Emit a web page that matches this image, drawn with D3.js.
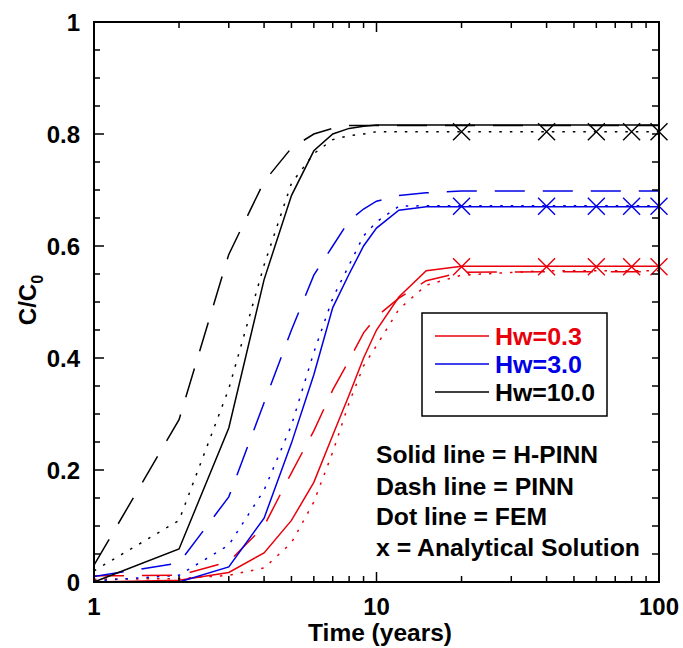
<!DOCTYPE html>
<html><head><meta charset="utf-8">
<script src="https://cdn.jsdelivr.net/npm/d3@7"></script>
<style>
body{margin:0;background:#fff;}
svg text{font-family:"Liberation Sans",Arial,Helvetica,sans-serif;font-weight:bold;}
</style></head>
<body>
<svg id="chart" width="683" height="648"></svg>
<script>
// ---------- data ----------
const times = [1,2,3,4,5,6,7,8,9,10,12,15,20,40,60,80,100];
// H-PINN (solid)
const hpinn_03 = [0,0.003,0.017,0.052,0.11,0.178,0.262,0.334,0.40,0.45,0.509,0.556,0.564,0.564,0.564,0.564,0.564];
const hpinn_30 = [0,0,0.027,0.114,0.248,0.37,0.49,0.55,0.60,0.632,0.664,0.67,0.67,0.67,0.67,0.67,0.67];
const hpinn_100 = [0,0.059,0.275,0.54,0.69,0.77,0.80,0.81,0.814,0.816,0.816,0.816,0.816,0.816,0.816,0.816,0.816];
// PINN (dash)
const pinn_03 = [0.011,0.012,0.036,0.10,0.195,0.27,0.343,0.396,0.445,0.474,0.507,0.538,0.553,0.554,0.554,0.554,0.554];
const pinn_30 = [0.01,0.034,0.152,0.32,0.45,0.548,0.60,0.645,0.666,0.68,0.69,0.695,0.698,0.698,0.698,0.698,0.698];
const pinn_100 = [0.03,0.29,0.585,0.715,0.775,0.80,0.81,0.815,0.815,0.815,0.815,0.815,0.815,0.815,0.815,0.815,0.815];
// FEM (dot)
const fem_03 = [0.005,0.006,0.012,0.025,0.07,0.143,0.232,0.32,0.386,0.422,0.487,0.53,0.548,0.556,0.556,0.556,0.556];
const fem_30 = [0.002,0.012,0.066,0.164,0.28,0.41,0.507,0.566,0.618,0.643,0.671,0.672,0.672,0.672,0.672,0.672,0.672];
const fem_100 = [0.02,0.11,0.345,0.566,0.712,0.765,0.79,0.797,0.80,0.804,0.804,0.804,0.804,0.804,0.804,0.804,0.804];
// Analytical solution (x markers)
const anaTimes = [20,40,60,80,100];
const ana_03 = [0.563,0.563,0.563,0.563,0.563];
const ana_30 = [0.671,0.671,0.671,0.671,0.671];
const ana_100 = [0.804,0.804,0.804,0.804,0.804];

const legendLabels = ["Hw=0.3","Hw=3.0","Hw=10.0"];
const notes = ["Solid line = H-PINN","Dash line = PINN","Dot line = FEM","x = Analytical Solution"];
const yTicks = [0,0.2,0.4,0.6,0.8,1];
const yTickLabels = ["0","0.2","0.4","0.6","0.8","1"];
const xTicks = [1,10,100];
const xTickLabels = ["1","10","100"];

// ---------- layout ----------
const RED = "#e8000b", BLUE = "#0000e6", BLACK = "#000";
const svg = d3.select("#chart");
const L = 94, R = 659, T = 22, B = 582;
const x = d3.scaleLog().domain([1,100]).range([L,R]);
const y = d3.scaleLinear().domain([0,1]).range([B,T]);

const series = [
  {vals: fem_03, color: RED, dash: "2.5,8"},
  {vals: fem_30, color: BLUE, dash: "2.5,8"},
  {vals: fem_100, color: BLACK, dash: "2.5,8"},
  {vals: pinn_03, color: RED, dash: "30,18"},
  {vals: pinn_30, color: BLUE, dash: "30,18"},
  {vals: pinn_100, color: BLACK, dash: "30,18"},
  {vals: hpinn_03, color: RED, dash: null},
  {vals: hpinn_30, color: BLUE, dash: null},
  {vals: hpinn_100, color: BLACK, dash: null},
];
const line = d3.line().x(d => x(d[0])).y(d => y(d[1]));
series.forEach(s => {
  svg.append("path")
    .datum(times.map((t,i) => [t, s.vals[i]]))
    .attr("d", line)
    .attr("fill","none")
    .attr("stroke", s.color)
    .attr("stroke-width", 1.5)
    .attr("stroke-dasharray", s.dash);
});

// analytical X markers
const xm = 8.5;
[[ana_03,RED],[ana_30,BLUE],[ana_100,BLACK]].forEach(([vals,color]) => {
  svg.append("g").selectAll("path").data(anaTimes.map((t,i)=>[t,vals[i]])).join("path")
    .attr("d", d => {
      const cx = x(d[0]), cy = y(d[1]);
      return `M${cx-xm},${cy-xm}L${cx+xm},${cy+xm}M${cx-xm},${cy+xm}L${cx+xm},${cy-xm}`;
    })
    .attr("stroke", color).attr("stroke-width", 1.4).attr("fill","none");
});

// ---------- axes ----------
const minorY = d3.range(0, 1.0001, 0.05);
const logTicks = [];
[1,10].forEach(d => { for (let k=1;k<10;k++) logTicks.push(d*k); });
logTicks.push(100);

const axG = svg.append("g").attr("stroke","#000").attr("stroke-width",1.5);
minorY.forEach(v => {
  const major = yTicks.some(t => Math.abs(t-v) < 1e-9);
  axG.append("line").attr("x1",L).attr("x2",L+(major?10:6)).attr("y1",y(v)).attr("y2",y(v));
  axG.append("line").attr("x1",R).attr("x2",R-7).attr("y1",y(v)).attr("y2",y(v));
});
logTicks.forEach(v => {
  const major = xTicks.includes(v);
  axG.append("line").attr("x1",x(v)).attr("x2",x(v)).attr("y1",B).attr("y2",B-(major?10:6));
  axG.append("line").attr("x1",x(v)).attr("x2",x(v)).attr("y1",T).attr("y2",T+(major?10:6));
});
svg.append("rect").attr("x",L).attr("y",T).attr("width",R-L).attr("height",B-T)
  .attr("fill","none").attr("stroke","#000").attr("stroke-width",2);

// tick labels
svg.append("g").selectAll("text").data(yTicks).join("text")
  .attr("x", 80).attr("y", d => y(d)).attr("dy","0.36em")
  .attr("text-anchor","end").attr("font-size",24).text((d,i)=>yTickLabels[i]);
svg.append("g").selectAll("text").data(xTicks).join("text")
  .attr("x", d => x(d)).attr("y", 615)
  .attr("text-anchor","middle").attr("font-size",24).text((d,i)=>xTickLabels[i]);

// axis titles
svg.append("text").attr("x", 380).attr("y", 641).attr("text-anchor","middle")
  .attr("font-size",24.5).text("Time (years)");
const yt = svg.append("text").attr("transform","translate(36,300) rotate(-90)")
  .attr("text-anchor","middle").attr("font-size",24);
yt.append("tspan").text("C/C");
yt.append("tspan").attr("font-size",16).attr("dy",7).text("0");

// legend
svg.append("rect").attr("x",422).attr("y",313).attr("width",185).attr("height",103)
  .attr("fill","#fff").attr("stroke","#000").attr("stroke-width",1.5);
const legColors = [RED, BLUE, BLACK];
const legY = [336, 364, 392];
const legW = [87, 87, 100];
legendLabels.forEach((lab,i) => {
  svg.append("line").attr("x1",435).attr("x2",489).attr("y1",legY[i]).attr("y2",legY[i])
    .attr("stroke",legColors[i]).attr("stroke-width",1.3);
  svg.append("text").attr("x",495).attr("y",legY[i]).attr("dy","0.36em")
    .attr("font-size",24).attr("textLength",legW[i]).attr("lengthAdjust","spacingAndGlyphs")
    .attr("fill",legColors[i]).text(lab);
});

// notes
const noteY = [463, 495, 525, 556];
const noteW = [222, 198, 171, 264];
notes.forEach((n,i) => {
  svg.append("text").attr("x",376).attr("y",noteY[i]).attr("font-size",24.5)
    .attr("textLength",noteW[i]).attr("lengthAdjust","spacingAndGlyphs").text(n);
});
</script>
</body></html>
